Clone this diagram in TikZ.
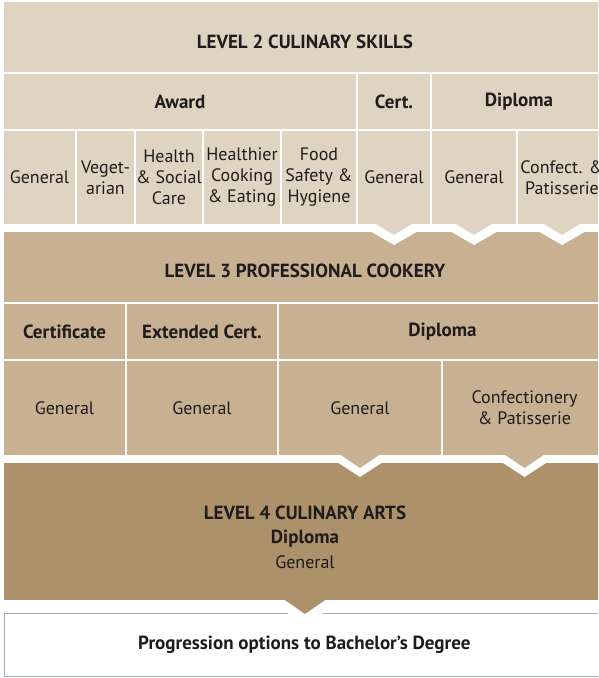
\documentclass[tikz,border=0pt]{standalone}
\usepackage{fontspec}
\setmainfont{PT Sans}
\usetikzlibrary{calc}
\definecolor{lvtwo}{HTML}{DFD4C2}
\definecolor{lvthree}{HTML}{C8B193}
\definecolor{lvfour}{HTML}{AD916A}
\definecolor{ink}{HTML}{1E1C1C}
\definecolor{rim}{HTML}{A3ABB5}
\newcommand\mycell[7]{\node[#1, anchor=north west, minimum width={(#5-#3)*1pt}, minimum height={(#6-#4)*1pt}] (#2) at (#3,#4) {#7};}
\newcommand\chev[6]{%
  \fill[white] ($(#1)+(-#5,0)$) -- ($(#1)+(0,#4)$) -- ($(#1)+(#5,0)$) -- cycle;
  \fill[#6] ($(#1)+(-#2,-0.6)$) -- ($(#1)+(0,#3)$) -- ($(#1)+(#2,-0.6)$) -- cycle;}
\begin{document}
\begin{tikzpicture}[x=1pt,y=-1pt,
  base/.style={inner sep=0pt, outer sep=0pt, text=ink, align=center, font=\fontsize{18}{21}\selectfont},
  ctwo/.style={base, fill=lvtwo},
  cthree/.style={base, fill=lvthree},
  cfour/.style={base, fill=lvfour},
  hd/.style={font=\fontsize{19}{21}\selectfont\bfseries},
  ttl/.style={inner sep=0pt, text=ink, align=center, font=\fontsize{19}{21}\selectfont\bfseries}]
\useasboundingbox (0,0) rectangle (598,678);
\clip (0,0) rectangle (598,678);
% Level 2
\mycell{ctwo}{l2title}{4}{2}{606}{72}{}
\mycell{ctwo,hd}{l2award}{4}{74}{356}{129}{Award}
\mycell{ctwo,hd}{l2cert}{358}{74}{430}{129}{Cert.}
\mycell{ctwo,hd}{l2dip}{432}{74}{606}{129}{Diploma}
\mycell{ctwo}{l2a}{4}{131}{75}{224}{General}
\mycell{ctwo}{l2b}{77}{131}{134}{224}{Veget-\\arian}
\mycell{ctwo}{l2c}{136}{131}{202}{224}{Health\\\& Social\\Care}
\mycell{ctwo}{l2d}{204}{131}{280}{224}{Healthier\\Cooking\\\& Eating}
\mycell{ctwo}{l2e}{282}{131}{356}{224}{Food\\Safety \&\\Hygiene}
\mycell{ctwo}{l2f}{358}{131}{430}{224}{General}
\mycell{ctwo}{l2g}{432}{131}{516}{224}{General}
\mycell{ctwo}{l2h}{518}{131}{606}{224}{Confect. \&\\Patisserie}
\node[ttl] (l2text) at (305,42) {LEVEL 2 CULINARY SKILLS};
% Level 3
\mycell{cthree}{l3title}{4}{232}{606}{302}{}
\mycell{cthree,hd}{l3cert}{4}{304}{125}{359}{Certificate}
\mycell{cthree,hd}{l3ext}{127}{304}{277}{359}{Extended Cert.}
\mycell{cthree,hd}{l3dip}{279}{304}{606}{359}{Diploma}
\mycell{cthree}{l3a}{4}{361}{125}{455}{General}
\mycell{cthree}{l3b}{127}{361}{277}{455}{General}
\mycell{cthree}{l3c}{279}{361}{441}{455}{General}
\mycell{cthree}{l3d}{443}{361}{606}{455}{Confectionery\\\& Patisserie}
\node[ttl] (l3text) at (305,271) {LEVEL 3 PROFESSIONAL COOKERY};
% Level 4
\mycell{cfour}{l4}{4}{463}{606}{600}{}
\node[inner sep=0pt, text=ink, align=center, font=\fontsize{19}{24.5}\selectfont] (l4text) at (305,537)
  {\textbf{LEVEL 4 CULINARY ARTS}\\\textbf{Diploma}\\{\fontsize{18}{24.5}\selectfont General}};
% Bottom
\node[base, draw=rim, line width=1.4pt, fill=white, anchor=north west, minimum width=599.3pt, minimum height=63pt,
  font=\fontsize{19}{21}\selectfont\bfseries] (bach) at (4.7,613.7)
  {Progression options to Bachelor’s Degree};
% chevrons
\chev{l2f.south}{19}{11}{21}{36.3}{lvtwo}
\chev{l2g.south}{19}{11}{21}{36.3}{lvtwo}
\chev{l2h.south}{19}{11}{21}{36.3}{lvtwo}
\chev{l3c.south}{20}{13}{22}{33.8}{lvthree}
\chev{l3d.south}{20}{13}{22}{33.8}{lvthree}
\chev{l4.south}{21}{14}{25}{37.5}{lvfour}
\end{tikzpicture}
\end{document}
